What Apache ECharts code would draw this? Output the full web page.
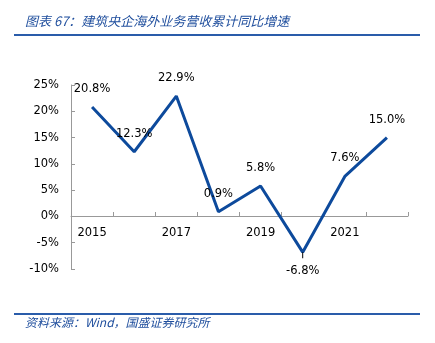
<!DOCTYPE html>
<html><head><meta charset="utf-8">
<script src="https://cdn.jsdelivr.net/npm/echarts@6/dist/echarts.min.js"></script>
<style>html,body{margin:0;padding:0;background:#fff}#c{width:435px;height:343px}</style>
</head><body><div id="c"></div>
<script>
const categories = ['2015','2016','2017','2018','2019','2020','2021','2022'];
const growth = [20.8, 12.3, 22.9, 0.9, 5.8, -6.8, 7.6, 15.0];
const yTicks = {min: -10, max: 25, interval: 5};
const titleText = '图表 67：建筑央企海外业务营收累计同比增速';
const sourceText = '资料来源：Wind，国盛证券研究所';

const chart = echarts.init(document.getElementById('c'), null, {renderer: 'canvas'});
const blue = '#1f4e9d';
const font = 'DejaVu Sans';
chart.setOption({
  animation: false,
  backgroundColor: '#fff',
  grid: {left: 71, right: 27, top: 85, bottom: 74, containLabel: false},
  xAxis: {
    type: 'category', data: categories, boundaryGap: true,
    offset: -53,
    axisLine: {onZero: false, lineStyle: {color: '#999', width: 1}},
    axisTick: {show: true, inside: true, length: 4, interval: 0, lineStyle: {color: '#999'}},
    axisLabel: {interval: 1, color: '#000', fontFamily: font, fontSize: 11.5, margin: 11}
  },
  yAxis: {
    type: 'value', min: yTicks.min, max: yTicks.max, interval: yTicks.interval,
    axisLine: {show: true, lineStyle: {color: '#999', width: 1}},
    axisTick: {show: true, inside: true, length: 4, lineStyle: {color: '#999'}},
    splitLine: {show: false},
    axisLabel: {formatter: '{value}%', color: '#000', fontFamily: font, fontSize: 11.5, margin: 12}
  },
  series: [{
    type: 'line', data: growth.map((v, i) => ({
      value: v,
      label: v < 0
        ? {position: 'bottom', distance: 0, formatter: p => '{bar|}\n{v|' + p.value.toFixed(1) + '%}'}
        : {position: 'top', distance: 12}
    })),
    symbol: 'circle', symbolSize: 0, showSymbol: true,
    lineStyle: {color: '#0d4a9c', width: 3},
    itemStyle: {color: '#0d4a9c'},
    label: {
      show: true, formatter: p => p.value.toFixed(1) + '%', color: '#000', fontFamily: font, fontSize: 11.5,
      rich: {
        bar: {width: 1, height: 6, backgroundColor: '#000', lineHeight: 6},
        v: {color: '#000', fontFamily: font, fontSize: 11.5, lineHeight: 26}
      }
    }
  }],
  graphic: [
    {type: 'text', left: 25, top: 15, style: {text: titleText, fill: blue, font: 'italic 13px "Noto Sans CJK SC"'}},
    {type: 'line', shape: {x1: 14, y1: 35, x2: 420, y2: 35}, style: {stroke: '#2a5caa', lineWidth: 2}},
    {type: 'line', shape: {x1: 14, y1: 314, x2: 420, y2: 314}, style: {stroke: '#2a5caa', lineWidth: 2}},
    {type: 'text', left: 25, top: 316, style: {text: sourceText, fill: blue, font: 'italic 12px "Noto Sans CJK SC"'}}
  ]
});
</script></body></html>
